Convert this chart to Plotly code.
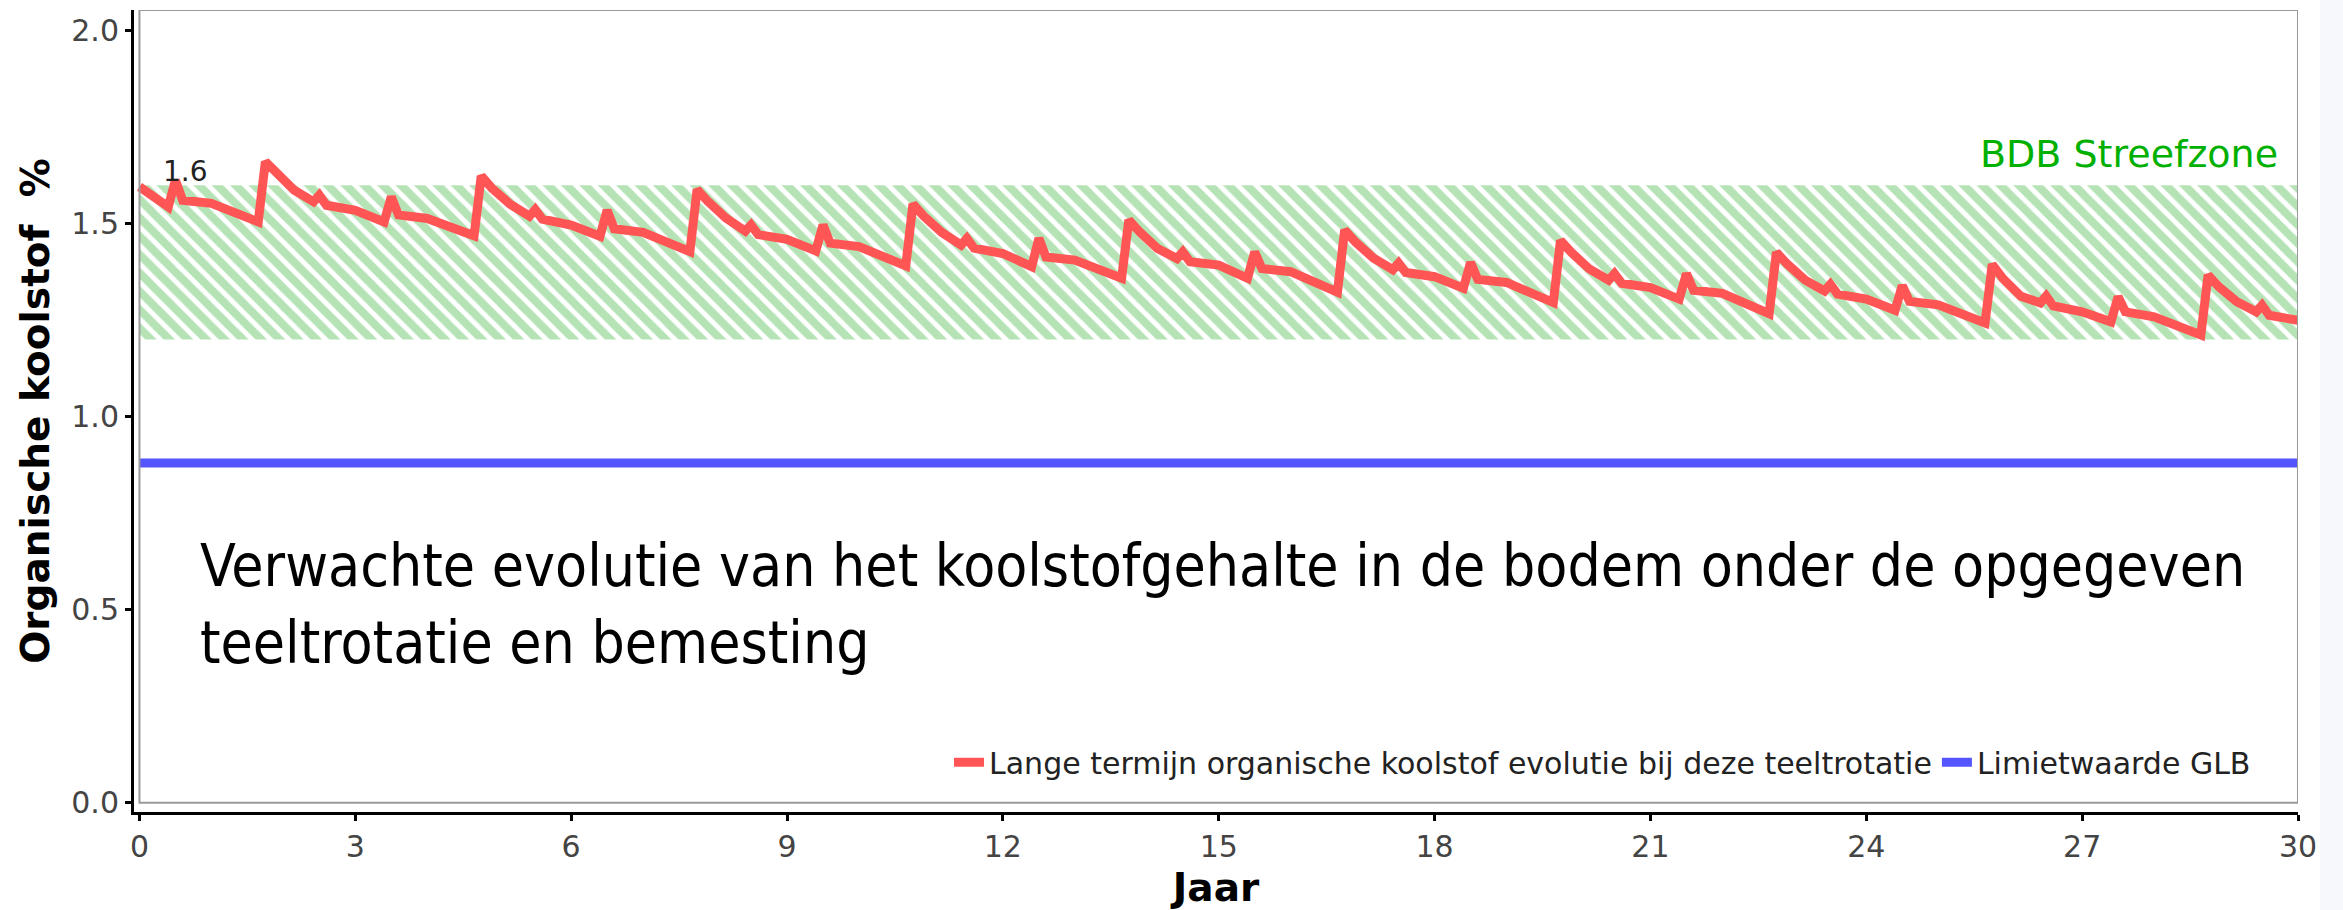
import plotly.graph_objects as go

# ---- data -------------------------------------------------------------
jaar = [
    0, 0.4, 0.5, 0.6, 1.0, 1.65, 1.75, 1.9, 2.15, 2.42, 2.5, 2.6,
    3, 3.4, 3.5, 3.6, 4.0, 4.65, 4.75, 4.9, 5.15, 5.42, 5.5, 5.6,
    6, 6.4, 6.5, 6.6, 7.0, 7.65, 7.75, 7.9, 8.15, 8.42, 8.5, 8.6,
    9, 9.4, 9.5, 9.6, 10.0, 10.65, 10.75, 10.9, 11.15, 11.42, 11.5, 11.6,
    12, 12.4, 12.5, 12.6, 13.0, 13.65, 13.75, 13.9, 14.15, 14.42, 14.5, 14.6,
    15, 15.4, 15.5, 15.6, 16.0, 16.65, 16.75, 16.9, 17.15, 17.42, 17.5, 17.6,
    18, 18.4, 18.5, 18.6, 19.0, 19.65, 19.75, 19.9, 20.15, 20.42, 20.5, 20.6,
    21, 21.4, 21.5, 21.6, 22.0, 22.65, 22.75, 22.9, 23.15, 23.42, 23.5, 23.6,
    24, 24.4, 24.5, 24.6, 25.0, 25.65, 25.75, 25.9, 26.15, 26.42, 26.5, 26.6,
    27, 27.4, 27.5, 27.6, 28.0, 28.65, 28.75, 28.9, 29.15, 29.42, 29.5, 29.6,
    30,
]
koolstof = [
    1.596, 1.544, 1.613, 1.561, 1.553, 1.505, 1.661, 1.631, 1.587, 1.557, 1.574, 1.548,
    1.535, 1.505, 1.570, 1.523, 1.514, 1.469, 1.624, 1.592, 1.551, 1.520, 1.537, 1.512,
    1.497, 1.468, 1.535, 1.487, 1.478, 1.428, 1.589, 1.558, 1.515, 1.481, 1.497, 1.472,
    1.460, 1.430, 1.497, 1.450, 1.441, 1.391, 1.551, 1.520, 1.478, 1.445, 1.462, 1.437,
    1.423, 1.389, 1.462, 1.414, 1.406, 1.359, 1.510, 1.479, 1.436, 1.410, 1.427, 1.402,
    1.393, 1.359, 1.427, 1.384, 1.376, 1.323, 1.484, 1.453, 1.411, 1.381, 1.398, 1.374,
    1.363, 1.333, 1.400, 1.356, 1.348, 1.296, 1.457, 1.426, 1.383, 1.354, 1.371, 1.346,
    1.335, 1.305, 1.371, 1.328, 1.320, 1.267, 1.426, 1.396, 1.354, 1.326, 1.343, 1.318,
    1.305, 1.276, 1.340, 1.299, 1.290, 1.243, 1.395, 1.358, 1.312, 1.295, 1.313, 1.287,
    1.272, 1.246, 1.311, 1.272, 1.259, 1.212, 1.367, 1.337, 1.298, 1.272, 1.289, 1.263,
    1.250,
]
limiet_jaar = [0, 30]
limiet_waarde = [0.88, 0.88]
streefzone_x = [0, 30, 30, 0, 0]
streefzone_y = [1.2, 1.2, 1.6, 1.6, 1.2]
startwaarde = 1.6
x_ticks = [0, 3, 6, 9, 12, 15, 18, 21, 24, 27, 30]
y_ticks = [0.0, 0.5, 1.0, 1.5, 2.0]

naam_rood = "Lange termijn organische koolstof evolutie bij deze teeltrotatie"
naam_blauw = "Limietwaarde GLB"
tekst_regel1 = "Verwachte evolutie van het koolstofgehalte in de bodem onder de opgegeven"
tekst_regel2 = "teeltrotatie en bemesting"

# ---- figure -----------------------------------------------------------
fig = go.Figure()

fig.add_trace(go.Scatter(
    x=streefzone_x, y=streefzone_y, mode="lines", fill="toself",
    line=dict(width=0, color="rgba(0,0,0,0)"),
    fillcolor="white",
    fillpattern=dict(shape="\\", fgcolor="#6cc86c", bgcolor="white",
                     size=13, solidity=0.62),
    showlegend=False, hoverinfo="skip",
))

fig.add_trace(go.Scatter(
    x=jaar, y=koolstof, mode="lines", name=naam_rood,
    line=dict(color="#ff5555", width=9),
))

fig.add_trace(go.Scatter(
    x=limiet_jaar, y=limiet_waarde, mode="lines", name=naam_blauw,
    line=dict(color="#5555ff", width=9),
))

# plot frame
fig.add_shape(type="rect", xref="x", yref="y", x0=0, x1=30, y0=0, y1=2.054,
              line=dict(color="#9a9a9a", width=2), layer="above")

# light strip at the far right of the image
fig.add_shape(type="rect", xref="paper", yref="paper", x0=1.0102, x1=1.03,
              y0=-0.2, y1=1.05, line=dict(width=0), fillcolor="#f7f8fc",
              layer="below")

fig.add_annotation(x=jaar[0], y=startwaarde, text=f"{startwaarde:.1f}",
                   xref="x", yref="y", showarrow=False,
                   xanchor="left", yanchor="bottom", xshift=22, yshift=-5,
                   font=dict(family="DejaVu Sans", size=28, color="#222222"))

fig.add_annotation(x=29.75, y=1.68, text="BDB Streefzone", xref="x", yref="y",
                   showarrow=False, xanchor="right", yanchor="middle",
                   font=dict(family="DejaVu Sans", size=38, color="#00b000"))

main_font = dict(family="DejaVu Sans Condensed, sans-serif", size=58.3, color="black")
fig.add_annotation(x=0.813, y=0.613, text=tekst_regel1, xref="x", yref="y",
                   showarrow=False, xanchor="left", yanchor="middle", font=main_font)
fig.add_annotation(x=0.813, y=0.414, text=tekst_regel2, xref="x", yref="y",
                   showarrow=False, xanchor="left", yanchor="middle", font=main_font)

fig.update_layout(
    width=2343, height=910,
    margin=dict(l=134, r=45, t=10, b=98),
    paper_bgcolor="white", plot_bgcolor="white",
    font=dict(family="DejaVu Sans", color="#444444"),
    legend=dict(orientation="h", xanchor="right", x=0.9806,
                yanchor="middle", y=0.062, bgcolor="rgba(0,0,0,0)",
                font=dict(family="DejaVu Sans", size=30, color="#222222")),
    xaxis=dict(
        range=[-0.076, 30], tickvals=x_ticks, showgrid=False, zeroline=False,
        showline=True, linecolor="black", linewidth=3, automargin=False,
        ticks="outside", ticklen=6, tickwidth=3, tickcolor="black",
        tickfont=dict(family="DejaVu Sans", size=30, color="#444444"),
        title=dict(text="<b>Jaar</b>", standoff=14,
                   font=dict(family="DejaVu Sans", size=39, color="black")),
    ),
    yaxis=dict(
        range=[-0.024, 2.054], tickvals=y_ticks, tickformat=".1f",
        showgrid=False, zeroline=False, automargin=False,
        showline=True, linecolor="black", linewidth=3,
        ticks="outside", ticklen=6, tickwidth=3, tickcolor="black",
        tickfont=dict(family="DejaVu Sans", size=30, color="#444444"),
        title=dict(text="<b>Organische koolstof\u00a0\u00a0%</b>", standoff=10,
                   font=dict(family="DejaVu Sans", size=39, color="black")),
    ),
)

fig.write_html("out.html", config={"displayModeBar": False},
               post_script="document.body.style.margin='0';")
